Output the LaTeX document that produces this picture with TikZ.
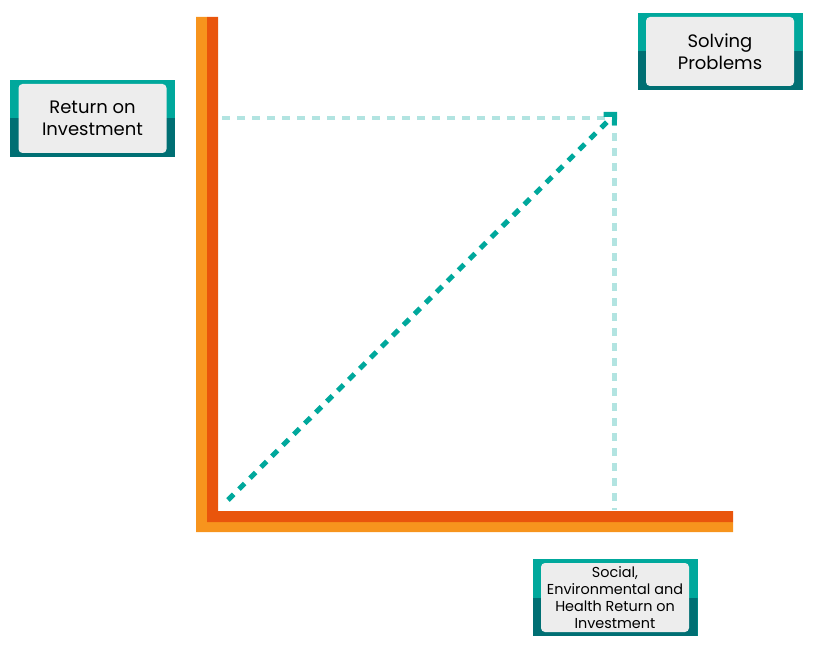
\documentclass[tikz,border=0pt]{standalone}
\usepackage{fontspec}
\setmainfont{Poppins}
\usetikzlibrary{arrows.meta,positioning,backgrounds}
\definecolor{tealtop}{HTML}{00A89C}
\definecolor{tealbot}{HTML}{006F73}
\definecolor{labelgrey}{HTML}{EDEDED}
\definecolor{tealpale}{HTML}{B2E4E1}
\definecolor{axislight}{HTML}{F7941D}
\definecolor{axisdark}{HTML}{E9550C}

\begin{document}
\begin{tikzpicture}[x=1pt, y=1pt,
    frame/.style={fill=tealtop, minimum width=165pt, minimum height=77pt, inner sep=0pt,
      path picture={\fill[tealbot] (path picture bounding box.south west) rectangle (path picture bounding box.east);}},
    label/.style={fill=labelgrey, rounded corners=4pt, minimum width=148pt, minimum height=69pt,
      inner sep=0pt, align=center, text=black},
    guide/.style={tealpale, line width=4.5pt, dash pattern=on 8pt off 7pt}]
      \useasboundingbox (0,0) rectangle (813,649);
      % axes
      \fill[axislight] (196,632) -- (207,632) -- (207,127) -- (733,127) -- (733,117) -- (196,117) -- cycle;
      \fill[axisdark] (207,632) -- (218,632) -- (218,138) -- (733,138) -- (733,127) -- (207,127) -- cycle;
      % guide lines
      \coordinate (origin) at (228,149);
      \coordinate (peak) at (617,537);
      \coordinate (corner) at (614.5,531);
      \coordinate (ystart) at (222,531);
      \coordinate (xend) at (614.5,139);
      \draw[guide] (ystart) -- (corner);
      \draw[guide] (corner) -- (xend);
      \draw[tealtop, line width=5pt, dash pattern=on 8pt off 7.5pt, -{Straight Barb[angle=90:11pt, line join=miter]}] (origin) -- (peak);
      % labels
      \node[frame] (roi frame) at (92.5,530.5) {};
      \node[label, font=\fontsize{18}{21.5}\selectfont] (roi) at (roi frame.center) {Return on\\Investment};
      \node[frame] (solving frame) at (720,597.5) {};
      \node[label, font=\fontsize{18}{21.5}\selectfont] (solving) at (solving frame.center) {Solving\\Problems};
      \node[frame] (social frame) at (615,51.5) {};
      \node[label, font=\fontsize{14.4}{16.8}\selectfont] (social) at (social frame.center) {Social,\\Environmental and\\Health Return on\\Investment};
    \end{tikzpicture}
\end{document}
